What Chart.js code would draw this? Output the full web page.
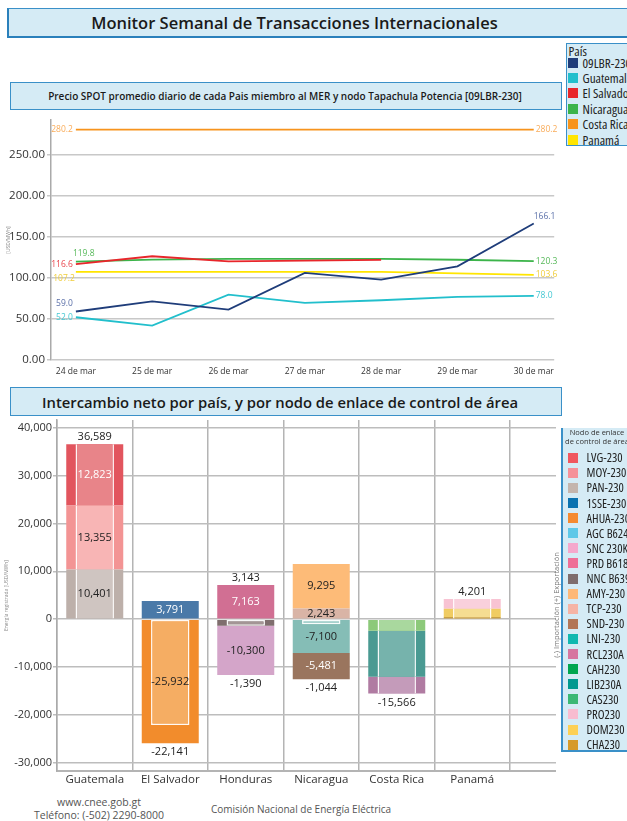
<!DOCTYPE html>
<html lang="es">
<head>
<meta charset="utf-8">
<title>Monitor Semanal de Transacciones Internacionales</title>
<script src="https://cdn.jsdelivr.net/npm/chart.js@4.4.1/dist/chart.umd.min.js"></script>
<style>
  html, body { margin: 0; padding: 0; background: #fff; }
  body { width: 627px; height: 821px; position: relative; overflow: hidden; font-family: "Open Sans", sans-serif; color: #222; }
  .caja { position: absolute; box-sizing: border-box; background: #d5ebf5; border: 1.5px solid #3a90c8;
          display: flex; align-items: center; justify-content: center; font-weight: 600; color: #1a1a1a; white-space: nowrap; }
  #titulo { left: 7px; top: 8px; width: 640px; height: 30px; font-size: 16.5px; padding-right: 66px;
            border-left: 2.5px solid #2a80bb; border-bottom: 2.5px solid #2a80bb; }
  #sub1 { left: 9.5px; top: 82px; width: 552px; height: 28px; font-size: 10px; padding-right: 1px; }
  #sub2 { left: 9.5px; top: 387px; width: 552px; height: 29px; font-size: 14.8px; padding-right: 11px; }
  .leyenda { position: absolute; box-sizing: border-box; background: #d5ebf5; border: 1.5px solid #3a90c8; overflow: hidden; }
  .leyenda .item { position: absolute; left: 0; height: 14px; display: flex; align-items: center; white-space: nowrap; }
  .leyenda .cuadro { width: 10px; height: 10px; flex: none; }
  .leyenda .txt { font-stretch: condensed; color: #222; }
  #leyPais { left: 566px; top: 43px; width: 70px; height: 103px; }
  #leyPais .txt { font-size: 13.2px; margin-left: 4.5px; }
  #leyNodo { left: 561px; top: 428px; width: 70px; height: 324px; border-width: 0 0 2px 2px; }
  #leyNodo .txt { font-size: 12.5px; margin-left: 9px; }
  #graf1 { position: absolute; left: 0; top: 112px; width: 560px; height: 268px; }
  #marco2 { position: absolute; left: 0; top: 418px; width: 556px; height: 377px; overflow: hidden; }
  #graf2 { position: absolute; left: 0; top: 0; width: 592px; height: 377px; }
  #ejeDer { position: absolute; left: 556px; top: 605px; font-size: 7.5px; color: #777; white-space: nowrap;
            transform: translate(-50%, -50%) rotate(-90deg); }
  .pie { position: absolute; font-size: 10.5px; color: #555; white-space: nowrap; transform: translate(-50%, -50%); }
</style>
</head>
<body>
<div id="titulo" class="caja">Monitor Semanal de Transacciones Internacionales</div>
<div id="sub1" class="caja">Precio SPOT promedio diario de cada Pais miembro al MER y nodo Tapachula Potencia [09LBR-230]</div>
<div id="leyPais" class="leyenda"></div>
<div id="graf1"><canvas id="cPrecio"></canvas></div>
<div id="sub2" class="caja">Intercambio neto por país, y por nodo de enlace de control de área</div>
<div id="marco2"><div id="graf2"><canvas id="cIntercambio"></canvas></div></div>
<div id="ejeDer">(-) Importación (+) Exportación</div>
<div id="leyNodo" class="leyenda"></div>
<div class="pie" style="left:99px; top:802px;">www.cnee.gob.gt</div>
<div class="pie" style="left:99px; top:815px;">Teléfono: (-502) 2290-8000</div>
<div class="pie" style="left:301px; top:809px; font-size:10px;">Comisión Nacional de Energía Eléctrica</div>

<script>
// ---------- Precio SPOT (USD/MWh) ----------
const dias = ["24 de mar", "25 de mar", "26 de mar", "27 de mar", "28 de mar", "29 de mar", "30 de mar"];
const series = ["09LBR-230", "Guatemala", "El Salvador", "Nicaragua", "Costa Rica", "Panamá"];
const precioLBR = [59.0, 71.4, 61.3, 105.9, 97.8, 114.0, 166.1];
const precioGuatemala = [52.0, 41.8, 79.6, 69.4, 72.7, 76.7, 78.0];
const precioElSalvador = [116.6, 126.2, 120.1, 121.0, 121.7, null, null];
const precioNicaragua = [119.8, 122.2, 123.0, 123.0, 123.0, 122.0, 120.3];
const precioCostaRica = [280.2, 280.2, 280.2, 280.2, 280.2, 280.2, 280.2];
const precioPanama = [107.2, 107.2, 107.2, 107.2, 107.2, 105.5, 103.6];

// ---------- Intercambio neto por nodo ----------
const paises = ["Guatemala", "El Salvador", "Honduras", "Nicaragua", "Costa Rica", "Panamá", ""];
const nodos = ["LVG-230", "MOY-230", "PAN-230", "1SSE-230", "AHUA-230", "AGC B624", "SNC 230K", "PRD B618", "NNC B639", "AMY-230",
               "TCP-230", "SND-230", "LNI-230", "RCL230A", "CAH230", "LIB230A", "CAS230", "PRO230", "DOM230", "CHA230"];
const paisNodo = [0, 0, 0, 1, 1, 2, 2, 2, 2, 3, 3, 3, 3, 4, 4, 4, 4, 5, 5, 5];
const energiaNodo = [12823, 13355, 10401, 3791, -25932, null, -10300, 7163, -1390, 9295,
                     2243, -5481, -7100, -3516, null, -9650, -2400, 2000, 1750, 450];
const energiaInterna = [12833, 13355, 10401, null, -22141, null, null, null, -1390, null,
                        null, null, -1044, -3516, null, -9650, -2400, 2000, 1750, 450];
const netoArriba = [36589, null, 3143, null, null, 4201, null];
const netoAbajo = [null, -22141, -1390, -1044, -15566, null, null];
const nodosRotulados = ["LVG-230", "MOY-230", "PAN-230", "1SSE-230", "AHUA-230", "SNC 230K", "PRD B618", "AMY-230", "TCP-230", "SND-230", "LNI-230"];
const ticksEnergia = [-30000, -20000, -10000, 0, 10000, 20000, 30000, 40000];

// estilos
const coloresSerie = ["#1f3d7a", "#22bfcc", "#e8262b", "#3cb44a", "#f7941d", "#ffe500"];
const coloresRotulo = ["#5a6fa8", "#45c8d3", "#e8434a", "#57b95a", "#f9ac5a", "#f0cd3a"];
const rotuloInicio = ["izqArriba", "izq", "izq", "arribaDer", "izq", "izqAbajo"];
const colorLeyenda = ["#f0575f", "#f59199", "#c4b5ad", "#0a72b0", "#f58a30", "#5ec8e8", "#f5a8cc", "#ee6f97", "#7f6d6d", "#fdb877",
                      "#f5b4a5", "#b27657", "#12b8b0", "#d676a0", "#00a650", "#009990", "#3bb875", "#f8bcd0", "#fdd055", "#d69a2a"];
const colorBarra = ["#e2555e", "#f39494", "#bdb0aa", "#4a79a8", "#f28c2c", "#8fd3ec", "#d4a5c9", "#d16f93", "#7f6e6e", "#fdbb78",
                    "#d9b4a6", "#9a755e", "#85bdb6", "#b07ba2", "#5cbf80", "#4a9a92", "#8cc97a", "#f8c3d3", "#f0cc62", "#c9a043"];
const colorInterno = ["#e88489", "#f8b5b5", "#cfc5c1", "#7ea3c8", "#f5ad63", "#b5e2f3", "#e2c3dc", "#e09bb5", "#a39595", "#fed2a6",
                      "#e8cdc3", "#bfa594", "#a8d3cf", "#c49bba", "#95d7ad", "#76b3ac", "#a9d89e", "#f9d0dc", "#f5dd92", "#d8b566"];

Chart.defaults.font.family = "'Open Sans', sans-serif";
Chart.defaults.color = "#333";
Chart.defaults.animation = false;

// leyendas html
function llenarLeyenda(id, nombres, colores, y0, paso, x0) {
  const caja = document.getElementById(id);
  nombres.forEach((n, i) => {
    const it = document.createElement("div");
    it.className = "item";
    it.style.top = (y0 + i * paso - 7) + "px";
    it.style.left = x0 + "px";
    it.innerHTML = '<span class="cuadro" style="background:' + colores[i] + '"></span><span class="txt">' + n + "</span>";
    caja.appendChild(it);
  });
}
const leyPais = document.getElementById("leyPais");
leyPais.innerHTML = '<div style="position:absolute;left:1.5px;top:-2px;font-size:13.2px;font-stretch:condensed;">País</div>';
llenarLeyenda("leyPais", series, coloresSerie, 18.5, 15.45, 1);
const leyNodo = document.getElementById("leyNodo");
leyNodo.innerHTML = '<div style="position:absolute;left:0;width:68px;top:0px;text-align:center;font-size:7.5px;line-height:9px;color:#333;">Nodo de enlace<br>de control de área</div>';
llenarLeyenda("leyNodo", nodos, colorLeyenda, 29.7, 15.1, 4.5);

// ---------- gráfica de líneas ----------
function rotular(ctx, p, v, modo) {
  let x = p.x, y = p.y;
  ctx.textBaseline = "middle";
  if (modo === "izq") { ctx.textAlign = "right"; x -= 3; }
  else if (modo === "izqArriba") { ctx.textAlign = "right"; x -= 3; y -= 8; }
  else if (modo === "izqAbajo") { ctx.textAlign = "right"; x -= 1; y += 7; }
  else if (modo === "arribaDer") { ctx.textAlign = "left"; x -= 3; y -= 8; }
  else if (modo === "arriba") { ctx.textAlign = "left"; y -= 7; }
  else { ctx.textAlign = "left"; x += 2; }
  ctx.fillText(v.toFixed(1), x, y);
}

const rotulosLinea = {
  id: "rotulosLinea",
  afterDatasetsDraw(chart) {
    const ctx = chart.ctx;
    ctx.save();
    ctx.font = "8.5px 'Open Sans'";
    chart.data.datasets.forEach((ds, i) => {
      const pts = chart.getDatasetMeta(i).data;
      const n = ds.data.length - 1;
      ctx.fillStyle = coloresRotulo[i];
      if (ds.data[0] != null) rotular(ctx, pts[0], ds.data[0], rotuloInicio[i]);
      if (ds.data[n] != null) rotular(ctx, pts[n], ds.data[n], i === 0 ? "arriba" : "der");
    });
    ctx.restore();
  }
};

const precios = [precioLBR, precioGuatemala, precioElSalvador, precioNicaragua, precioCostaRica, precioPanama];

new Chart(document.getElementById("cPrecio"), {
  type: "line",
  data: {
    labels: dias.map((d, i) => i),
    datasets: series.map((s, i) => ({
      label: s,
      data: precios[i],
      borderColor: coloresSerie[i],
      backgroundColor: coloresSerie[i],
      borderWidth: 1.8,
      pointRadius: 0,
      tension: 0,
      fill: false,
    })),
  },
  options: {
    responsive: true,
    maintainAspectRatio: false,
    layout: { padding: { top: 8, right: 4, left: 0, bottom: 0 } },
    plugins: { legend: { display: false }, tooltip: { enabled: false } },
    scales: {
      x: {
        type: "linear",
        min: -0.326,
        max: 6.268,
        grid: { display: false, drawTicks: false },
        border: { display: false },
        ticks: {
          stepSize: 1,
          includeBounds: false,
          autoSkip: false,
          maxRotation: 0,
          padding: 6,
          font: { size: 8.5 },
          color: "#333",
          callback: (v) => (Number.isInteger(v) && dias[v] ? dias[v] : ""),
        },
        afterFit: (s) => { s.height = 20; },
      },
      y: {
        min: 0,
        max: 292,
        ticks: {
          stepSize: 50,
          includeBounds: false,
          padding: 2,
          font: { size: 11.5 },
          color: "#333",
          callback: (v) => v.toFixed(2),
        },
        grid: { color: "#c8c8c8", lineWidth: 1.5, tickLength: 4 },
        border: { color: "#aaa", width: 1.5 },
        title: { display: true, text: "[USD/MWh]", font: { size: 5 }, color: "#888", padding: { top: 6, bottom: 0 } },
        afterFit: (s) => { s.width = 51; s.paddingTop = 0; },
      },
    },
  },
  plugins: [rotulosLinea],
});

// ---------- gráfica de barras ----------
const fmt = (v) => v.toLocaleString("en-US");
function luminancia(hex) {
  const r = parseInt(hex.substr(1, 2), 16), g = parseInt(hex.substr(3, 2), 16), b = parseInt(hex.substr(5, 2), 16);
  return 0.299 * r + 0.587 * g + 0.114 * b;
}
function serieDePais(valores, k) {
  return paises.map((p, c) => (c === paisNodo[k] ? valores[k] : null));
}
function internosEnPais(c) {
  return energiaInterna.filter((v, k) => v != null && paisNodo[k] === c).length;
}

const conjuntos = [];
// orden inverso de la leyenda para apilar como el original
for (let k = nodos.length - 1; k >= 0; k--) {
  conjuntos.push({
    label: nodos[k],
    nodo: k,
    rotulo: nodosRotulados.includes(nodos[k]),
    data: serieDePais(energiaNodo, k),
    backgroundColor: colorBarra[k],
    stack: "total",
    grouped: false,
    order: 1,
    barPercentage: 0.755,
    categoryPercentage: 1,
  });
}
for (let k = nodos.length - 1; k >= 0; k--) {
  if (energiaInterna[k] == null) continue;
  const solo = internosEnPais(paisNodo[k]) === 1;
  conjuntos.push({
    label: nodos[k] + " (neto)",
    nodo: k,
    data: serieDePais(energiaInterna, k),
    backgroundColor: colorInterno[k],
    borderColor: "rgba(255,255,255,0.95)",
    borderWidth: solo ? 1.5 : { left: 1.5, right: 1.5, top: 0, bottom: 0 },
    borderSkipped: false,
    stack: "neto",
    grouped: false,
    order: 0,
    barPercentage: 0.509,
    categoryPercentage: 1,
  });
}

const rotulosBarra = {
  id: "rotulosBarra",
  afterDatasetsDraw(chart) {
    const ctx = chart.ctx, ys = chart.scales.y, xs = chart.scales.x;
    ctx.save();
    ctx.font = "11px 'Open Sans'";
    ctx.textAlign = "center";
    ctx.textBaseline = "middle";
    chart.data.datasets.forEach((ds, i) => {
      if (!ds.rotulo) return;
      const k = ds.nodo;
      const el = chart.getDatasetMeta(i).data[paisNodo[k]];
      ctx.fillStyle = luminancia(colorBarra[k]) < 150 ? "#fff" : "#222";
      ctx.fillText(fmt(energiaNodo[k]), el.x, (el.y + el.base) / 2);
    });
    ctx.fillStyle = "#222";
    paises.forEach((p, c) => {
      let pos = 0, neg = 0;
      energiaNodo.forEach((v, k) => {
        if (paisNodo[k] === c && v != null) { if (v > 0) pos += v; else neg += v; }
      });
      const x = xs.getPixelForValue(c);
      if (netoArriba[c] != null) ctx.fillText(fmt(netoArriba[c]), x, ys.getPixelForValue(pos) - 7);
      if (netoAbajo[c] != null) ctx.fillText(fmt(netoAbajo[c]), x, ys.getPixelForValue(neg) + 9);
    });
    ctx.restore();
  }
};

new Chart(document.getElementById("cIntercambio"), {
  type: "bar",
  data: { labels: paises, datasets: conjuntos },
  options: {
    responsive: true,
    maintainAspectRatio: false,
    layout: { padding: { top: 2, right: 6.5, left: 0, bottom: 0 } },
    plugins: { legend: { display: false }, tooltip: { enabled: false } },
    scales: {
      x: {
        grid: { color: "#b4b4b4", lineWidth: 1.5, drawTicks: false, offset: true },
        border: { color: "#b4b4b4", width: 2 },
        ticks: { font: { size: 11.5 }, color: "#333", padding: 2 },
        afterFit: (s) => { s.height = 24; },
      },
      y: {
        stacked: true,
        min: -31750,
        max: 41650,
        afterBuildTicks: (s) => { s.ticks = ticksEnergia.map((v) => ({ value: v })); },
        ticks: {
          padding: 1,
          font: { size: 11 },
          color: "#333",
          callback: (v) => fmt(v),
        },
        grid: { color: "#bdbdbd", lineWidth: 1.5, tickLength: 4 },
        border: { color: "#aaa", width: 1.5 },
        title: { display: true, text: "Energía registrada [USD/MWh]", font: { size: 5 }, color: "#888", padding: { top: 4, bottom: 0 } },
        afterFit: (s) => { s.width = 57; s.paddingTop = 0; },
      },
    },
  },
  plugins: [rotulosBarra],
});
</script>
</body>
</html>
